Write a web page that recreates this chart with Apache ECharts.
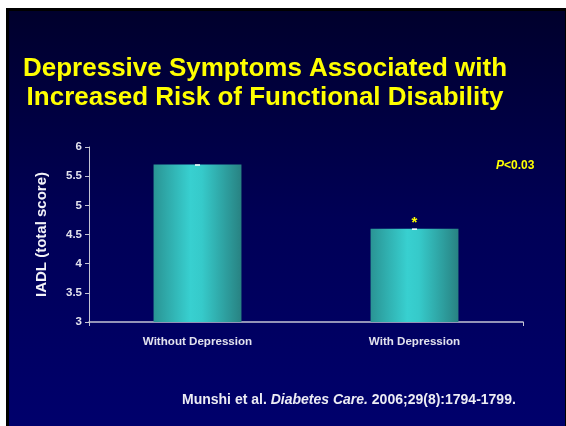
<!DOCTYPE html>
<html>
<head>
<meta charset="utf-8">
<style>
  html, body { margin: 0; padding: 0; background: #ffffff; }
  #chart { width: 566px; height: 426px; }
</style>
<script src="https://cdn.jsdelivr.net/npm/echarts@6/dist/echarts.min.js"></script>
</head>
<body>
<div id="chart"></div>
<script>
// IADL scores by depression status
const categories = ['Without Depression', 'With Depression'];
const iadlScores = [5.7, 4.6];
const significanceMarks = ['', '*'];
const yTicks = [3, 3.5, 4, 4.5, 5, 5.5, 6];

const FONT = '"Liberation Sans", Arial, Helvetica, sans-serif';

const chart = echarts.init(document.getElementById('chart'), null, { renderer: 'canvas' });

const barGradient = new echarts.graphic.LinearGradient(0, 0, 1, 0, [
  { offset: 0, color: '#2a9494' },
  { offset: 0.42, color: '#38d0d0' },
  { offset: 0.55, color: '#36caca' },
  { offset: 1, color: '#288282' }
]);

chart.setOption({
  backgroundColor: '#ffffff',
  animation: false,
  graphic: [
    { type: 'rect', z: -20, silent: true,
      shape: { x: 6, y: 8, width: 560, height: 418 },
      style: { fill: '#000000' } },
    { type: 'rect', z: -19, silent: true,
      shape: { x: 9, y: 11, width: 556, height: 415 },
      style: { fill: new echarts.graphic.LinearGradient(0, 0, 0, 1, [
        { offset: 0, color: '#00002c' },
        { offset: 0.5, color: '#000056' },
        { offset: 1, color: '#00006c' }
      ]) } },
    { type: 'text', silent: true, left: 496, top: 160,
      style: {
        text: '{i|P}{n|<0.03}',
        rich: {
          i: { fontFamily: FONT, fontSize: 12, fontWeight: 'bold', fontStyle: 'italic', fill: '#ffff00' },
          n: { fontFamily: FONT, fontSize: 12, fontWeight: 'bold', fill: '#ffff00' }
        }
      } },
    { type: 'text', silent: true, left: 182, top: 393,
      style: {
        text: '{n|Munshi et al. }{i|Diabetes Care.}{n| 2006;29(8):1794-1799.}',
        rich: {
          n: { fontFamily: FONT, fontSize: 14, fontWeight: 'bold', fill: '#ececf4' },
          i: { fontFamily: FONT, fontSize: 14, fontWeight: 'bold', fontStyle: 'italic', fill: '#ececf4' }
        }
      } }
  ],
  title: {
    text: 'Depressive Symptoms Associated with\nIncreased Risk of Functional Disability',
    left: 260,
    top: 49,
    textAlign: 'center',
    textStyle: {
      fontFamily: FONT,
      fontSize: 26,
      fontWeight: 'bold',
      color: '#ffff00',
      lineHeight: 29
    }
  },
  grid: { left: 89, right: 43, top: 147, bottom: 104 },
  xAxis: {
    type: 'category',
    data: categories,
    axisLine: { lineStyle: { color: '#c4c4d4', width: 1.5 } },
    axisTick: { show: true, length: 4, alignWithLabel: false, interval: 10,
      lineStyle: { color: '#c4c4d4' } },
    axisLabel: { fontFamily: FONT, fontSize: 11.6, fontWeight: 'bold', color: '#e2e2ee', margin: 14 }
  },
  yAxis: {
    type: 'value',
    min: 3,
    max: 6,
    interval: 0.5,
    name: 'IADL (total score)',
    nameLocation: 'middle',
    nameGap: 40,
    nameRotate: 90,
    nameTextStyle: { fontFamily: FONT, fontSize: 15, fontWeight: 'bold', color: '#f2f2f8' },
    axisLine: { show: true, lineStyle: { color: '#c4c4d4', width: 1 } },
    axisTick: { show: true, length: 4, lineStyle: { color: '#c4c4d4' } },
    splitLine: { show: false },
    axisLabel: {
      fontFamily: FONT, fontSize: 11.5, fontWeight: 'bold', color: '#e2e2ee', margin: 7,
      formatter: v => (yTicks.indexOf(v) >= 0 ? String(v) : '')
    }
  },
  series: [
    {
      type: 'bar',
      barWidth: '40.5%',
      itemStyle: { color: barGradient },
      data: iadlScores.map((v, i) => ({
        value: v,
        label: {
          show: significanceMarks[i] !== '',
          position: 'top',
          distance: -2,
          formatter: significanceMarks[i],
          color: '#ffff00',
          fontFamily: FONT,
          fontSize: 15,
          fontWeight: 'bold'
        }
      }))
    },
    {
      // small caps marking the top of each bar
      type: 'custom',
      silent: true,
      z: 5,
      data: iadlScores.map((v, i) => [i, v]),
      renderItem: (params, api) => {
        const p = api.coord([api.value(0), api.value(1)]);
        return {
          type: 'line',
          shape: { x1: p[0] - 2.5, y1: p[1] + 0.5, x2: p[0] + 2.5, y2: p[1] + 0.5 },
          style: { stroke: '#ffffff', lineWidth: 1.5 }
        };
      }
    }
  ]
});
</script>
</body>
</html>
